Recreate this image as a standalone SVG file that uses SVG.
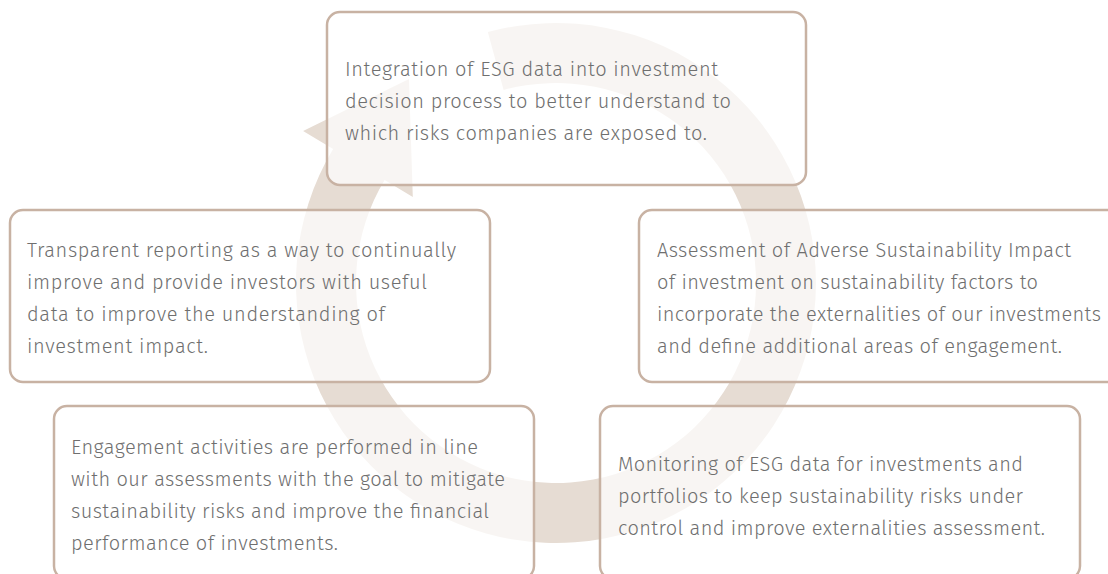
<svg xmlns="http://www.w3.org/2000/svg" width="1108" height="574" viewBox="0 0 1108 574">
  <style>
    .box { fill: #ffffff; fill-opacity: 0.72; stroke: #c8b2a3; stroke-width: 2.5; }
    .txt { font-family: "Fira Sans", "Open Sans", "Liberation Sans", sans-serif; font-weight: 300; font-size: 20px; fill: #6f6f6f; }
    .cycle { fill: #e6dcd3; }
  </style>
  <rect width="1108" height="574" fill="#ffffff"/>

  <!-- clockwise cycle arrow behind the steps -->
  <g id="connectors">
    <path class="cycle" d="M 487.8 32.1 A 260 260 0 1 1 333.1 149.1 L 303.1 131.1 L 409 79 L 412.8 197 L 384.6 180 A 200 200 0 1 0 503.6 90 Z"/>
  </g>

  <g id="step-integration">
    <rect class="box" x="327" y="12" width="479" height="173" rx="13"/>
    <text class="txt" x="345" y="76" textLength="373">Integration of ESG data into investment</text>
    <text class="txt" x="345" y="108" textLength="386">decision process to better understand to</text>
    <text class="txt" x="345" y="140" textLength="362">which risks companies are exposed to.</text>
  </g>

  <g id="step-assessment">
    <rect class="box" x="639" y="210" width="490" height="172" rx="13"/>
    <text class="txt" x="657" y="257" textLength="414">Assessment of Adverse Sustainability Impact</text>
    <text class="txt" x="657" y="289" textLength="381">of investment on sustainability factors to</text>
    <text class="txt" x="657" y="321" textLength="444">incorporate the externalities of our investments</text>
    <text class="txt" x="657" y="353" textLength="405">and define additional areas of engagement.</text>
  </g>

  <g id="step-monitoring">
    <rect class="box" x="600" y="406" width="480" height="173" rx="13"/>
    <text class="txt" x="618" y="471" textLength="405">Monitoring of ESG data for investments and</text>
    <text class="txt" x="618" y="503" textLength="405">portfolios to keep sustainability risks under</text>
    <text class="txt" x="618" y="535" textLength="427">control and improve externalities assessment.</text>
  </g>

  <g id="step-engagement">
    <rect class="box" x="54" y="406" width="480" height="173" rx="13"/>
    <text class="txt" x="71" y="454" textLength="407">Engagement activities are performed in line</text>
    <text class="txt" x="71" y="486" textLength="434">with our assessments with the goal to mitigate</text>
    <text class="txt" x="71" y="518" textLength="418">sustainability risks and improve the financial</text>
    <text class="txt" x="71" y="550" textLength="267">performance of investments.</text>
  </g>

  <g id="step-reporting">
    <rect class="box" x="10" y="210" width="480" height="172" rx="13"/>
    <text class="txt" x="27" y="257" textLength="429">Transparent reporting as a way to continually</text>
    <text class="txt" x="27" y="289" textLength="400">improve and provide investors with useful</text>
    <text class="txt" x="27" y="321" textLength="358">data to improve the understanding of</text>
    <text class="txt" x="27" y="353" textLength="181">investment impact.</text>
  </g>
</svg>
